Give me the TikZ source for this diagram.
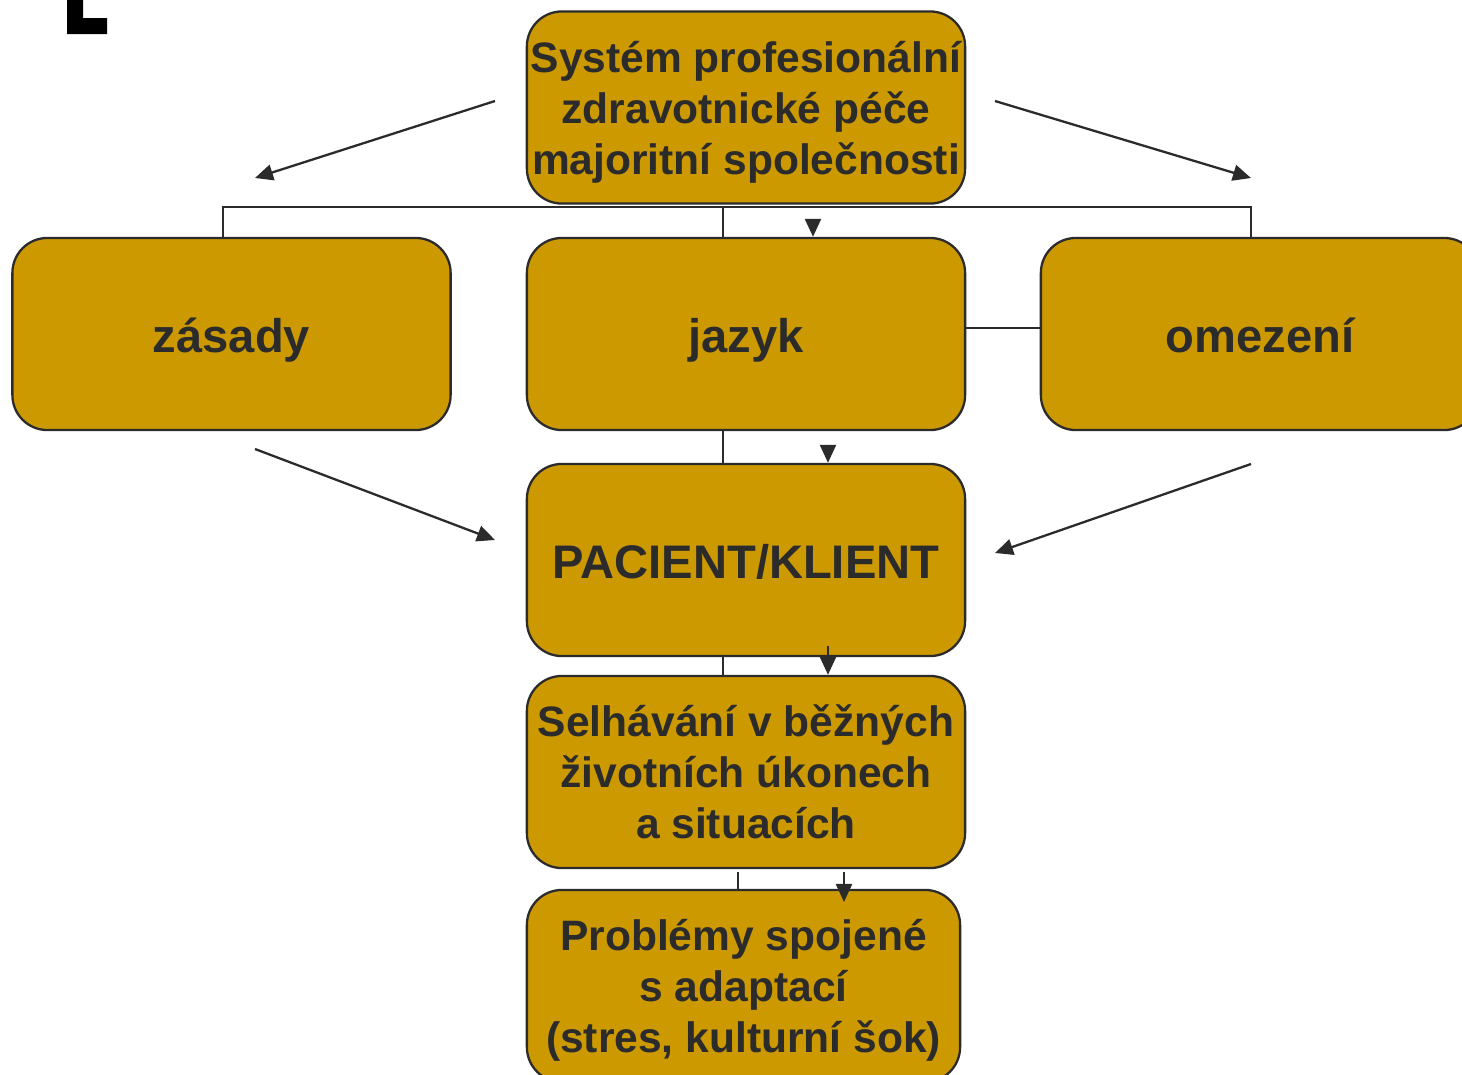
\documentclass[tikz,border=0pt]{standalone}
\usepackage{fontspec}
\setmainfont{Liberation Sans}
\usetikzlibrary{arrows.meta}
\definecolor{boxgold}{HTML}{CC9900}
\definecolor{inkgray}{HTML}{2B2B2B}

\begin{document}
\begin{tikzpicture}[x=0.01cm,y=-0.01cm,
  box/.style={draw=inkgray,fill=boxgold,rounded corners=0.35cm,line width=0.65pt,
    minimum width=4.38cm,minimum height=1.92cm,inner sep=0pt,align=center,
    text=inkgray,font=\bfseries\fontsize{13.4}{16}\selectfont},
  oneline/.style={text height=0.37cm,text depth=0pt},
  smalltext/.style={font=\bfseries\fontsize{12.1}{14.5}\selectfont,text depth=0pt},
  link/.style={draw=inkgray,line width=0.65pt},
  arr/.style={link,-{Triangle[length=0.18cm,width=0.16cm]}}]
\clip (0,0) rectangle (1462,1075);
\fill[white] (0,0) rectangle (1462,1075);
\fill[black] (67,0) -- (83,0) -- (83,18) -- (107,18) -- (107,34) -- (67,34) -- cycle;

\node[box,smalltext] (system) at (746,107.5) {Systém profesionální\\zdravotnické péče\\majoritní společnosti};
\node[box,oneline] (zasady) at (231.5,334) {zásady};
\node[box,oneline] (jazyk) at (746,334) {jazyk};
\node[box,oneline] (omezeni) at (1260,334) {omezení};
\node[box,oneline] (pacient) at (746,560) {PACIENT/KLIENT};
\node[box,smalltext] (selhani) at (746,772) {Selhávání v běžných\\životních úkonech\\a situacích};
\node[box,smalltext,minimum width=4.33cm] (problemy) at (743.5,986) {Problémy spojené\\s adaptací\\(stres, kulturní šok)};

\coordinate (busL) at (223,207);
\coordinate (busM) at (723,207);
\coordinate (busR) at (1251,207);
\draw[link] (busL |- zasady.north) -- (busL) -- (busR) -- (busR |- omezeni.north);
\draw[link] (busM) -- (busM |- jazyk.north);
\coordinate (tipA) at (813,226);
\draw[arr] (tipA) -- (tipA |- jazyk.north);
\draw[link] ([yshift=1.7pt]jazyk.east) -- ([yshift=1.7pt]omezeni.west);

\draw[link] (busM |- jazyk.south) -- (busM |- pacient.north);
\coordinate (tipB) at (828,450);
\draw[arr] (tipB) -- (tipB |- pacient.north);

\draw[link] (busM |- pacient.south) -- (busM |- selhani.north);
\coordinate (tipC) at (828,646);
\draw[arr] (tipC) -- (tipC |- selhani.north);

\coordinate (tickD) at (738,872);
\draw[link] (tickD) -- (tickD |- problemy.north);
\coordinate (tipD) at (844,872);
\coordinate (endD) at (844,902);
\draw[arr] (tipD) -- (endD);

\coordinate (fromSysL) at (495,101);
\coordinate (toZas) at (255,178);
\coordinate (fromSysR) at (995,101);
\coordinate (toOme) at (1251,178);
\draw[arr] (fromSysL) -- (toZas);
\draw[arr] (fromSysR) -- (toOme);
\coordinate (fromZas) at (255,449);
\coordinate (toPacL) at (495,540);
\coordinate (fromOme) at (1251,464);
\coordinate (toPacR) at (995,553);
\draw[arr] (fromZas) -- (toPacL);
\draw[arr] (fromOme) -- (toPacR);
\end{tikzpicture}
\end{document}
